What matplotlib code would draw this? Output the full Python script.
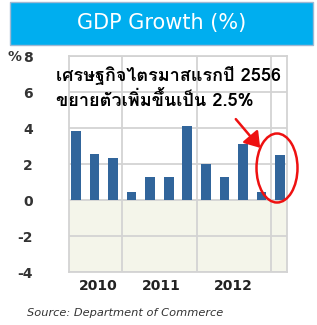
import matplotlib
matplotlib.use("Agg")
import matplotlib.pyplot as plt
from matplotlib.patches import Rectangle, Ellipse, FancyArrowPatch
from matplotlib import font_manager
from matplotlib.ft2font import FT2Font

# ---- data ----
quarters = list(range(12))
growth = [3.85, 2.55, 2.35, 0.45, 1.3, 1.3, 4.1, 2.0, 1.3, 3.1, 0.45, 2.5]
year_labels = ["2010", "2011", "2012"]
year_label_pos = [1.2, 4.6, 8.5]
year_bounds = [2.5, 6.5, 10.5]
yticks = [-4, -2, 0, 2, 4, 6, 8]
title = "GDP Growth (%)"
note_line1 = "เศรษฐกิจไตรมาสแรกปี 2556"
note_line2 = "ขยายตัวเพิ่มขึ้นเป็น 2.5%"
source = "Source: Department of Commerce"


def find_thai_family():
    seen = set()
    for f in font_manager.fontManager.ttflist:
        if f.fname in seen:
            continue
        seen.add(f.fname)
        try:
            ft = FT2Font(f.fname)
            if ft.get_char_index(0x0E01) and ft.get_char_index(0x0E28):
                return f.name
        except Exception:
            pass
    return None

thai = find_thai_family()
thai_fams = ([thai] if thai else []) + ["DejaVu Sans"]

fig = plt.figure(figsize=(3.17, 3.25), dpi=100)
W, H = 317, 325

def fx(px):
    return px / W

def fy(py):
    return 1 - py / H

# title box
fig.patches.append(Rectangle((fx(10), fy(45)), fx(303), 43 / H, transform=fig.transFigure,
                             facecolor="#00aeef", edgecolor="#9fb8d3", linewidth=1.0))
fig.text(fx(162), fy(23), title, color="white", fontsize=15, ha="center", va="center",
         family="DejaVu Sans")

ax = fig.add_axes([fx(69), fy(272), fx(287 - 69), (272 - 56) / H])
ax.set_xlim(-0.38, 11.38)
ax.set_ylim(-4, 8)
ax.axhspan(-4, 0, color="#f4f5ea", zorder=0)
for y in yticks:
    ax.axhline(y, color="#d3d3d3", linewidth=1.3, zorder=1)
for xb in year_bounds:
    ax.axvline(xb, color="#d3d3d3", linewidth=1.3, zorder=1)
ax.bar(quarters, growth, width=0.52, color="#31659b", zorder=3)

for s in ax.spines.values():
    s.set_color("#d3d3d3")
    s.set_linewidth(1.3)
ax.set_yticks(yticks)
ax.set_yticklabels([str(v) for v in yticks], fontsize=10, fontweight="bold", color="#333333")
ax.tick_params(axis="y", length=0, pad=26)
ax.set_xticks(year_label_pos)
ax.set_xticklabels(year_labels, fontsize=10, fontweight="bold", color="#222222")
ax.tick_params(axis="x", length=0, pad=5)

fig.text(fx(8), fy(57), "%", fontsize=10, fontweight="bold", color="#333333", ha="left", va="center")

# annotation text
fig.text(fx(56), fy(75), note_line1, fontsize=13, fontweight="bold", color="black",
         ha="left", va="center", family=thai_fams)
fig.text(fx(56), fy(101), note_line2, fontsize=13, fontweight="bold", color="black",
         ha="left", va="center", family=thai_fams)

# red arrow and ellipse
fig.patches.append(FancyArrowPatch((fx(234), fy(117)), (fx(262), fy(150)), transform=fig.transFigure,
                                   arrowstyle="-|>,head_length=6,head_width=4", color="#ee1111",
                                   linewidth=1.8, mutation_scale=1.5))
fig.patches.append(Ellipse((fx(277), fy(168)), fx(41), 69 / H, transform=fig.transFigure,
                           facecolor="none", edgecolor="#ee1111", linewidth=1.8, zorder=10))

fig.text(fx(27), fy(313), source, fontsize=8.2, style="italic", color="#333333", ha="left", va="center")

fig.savefig("out.png", dpi=100)
